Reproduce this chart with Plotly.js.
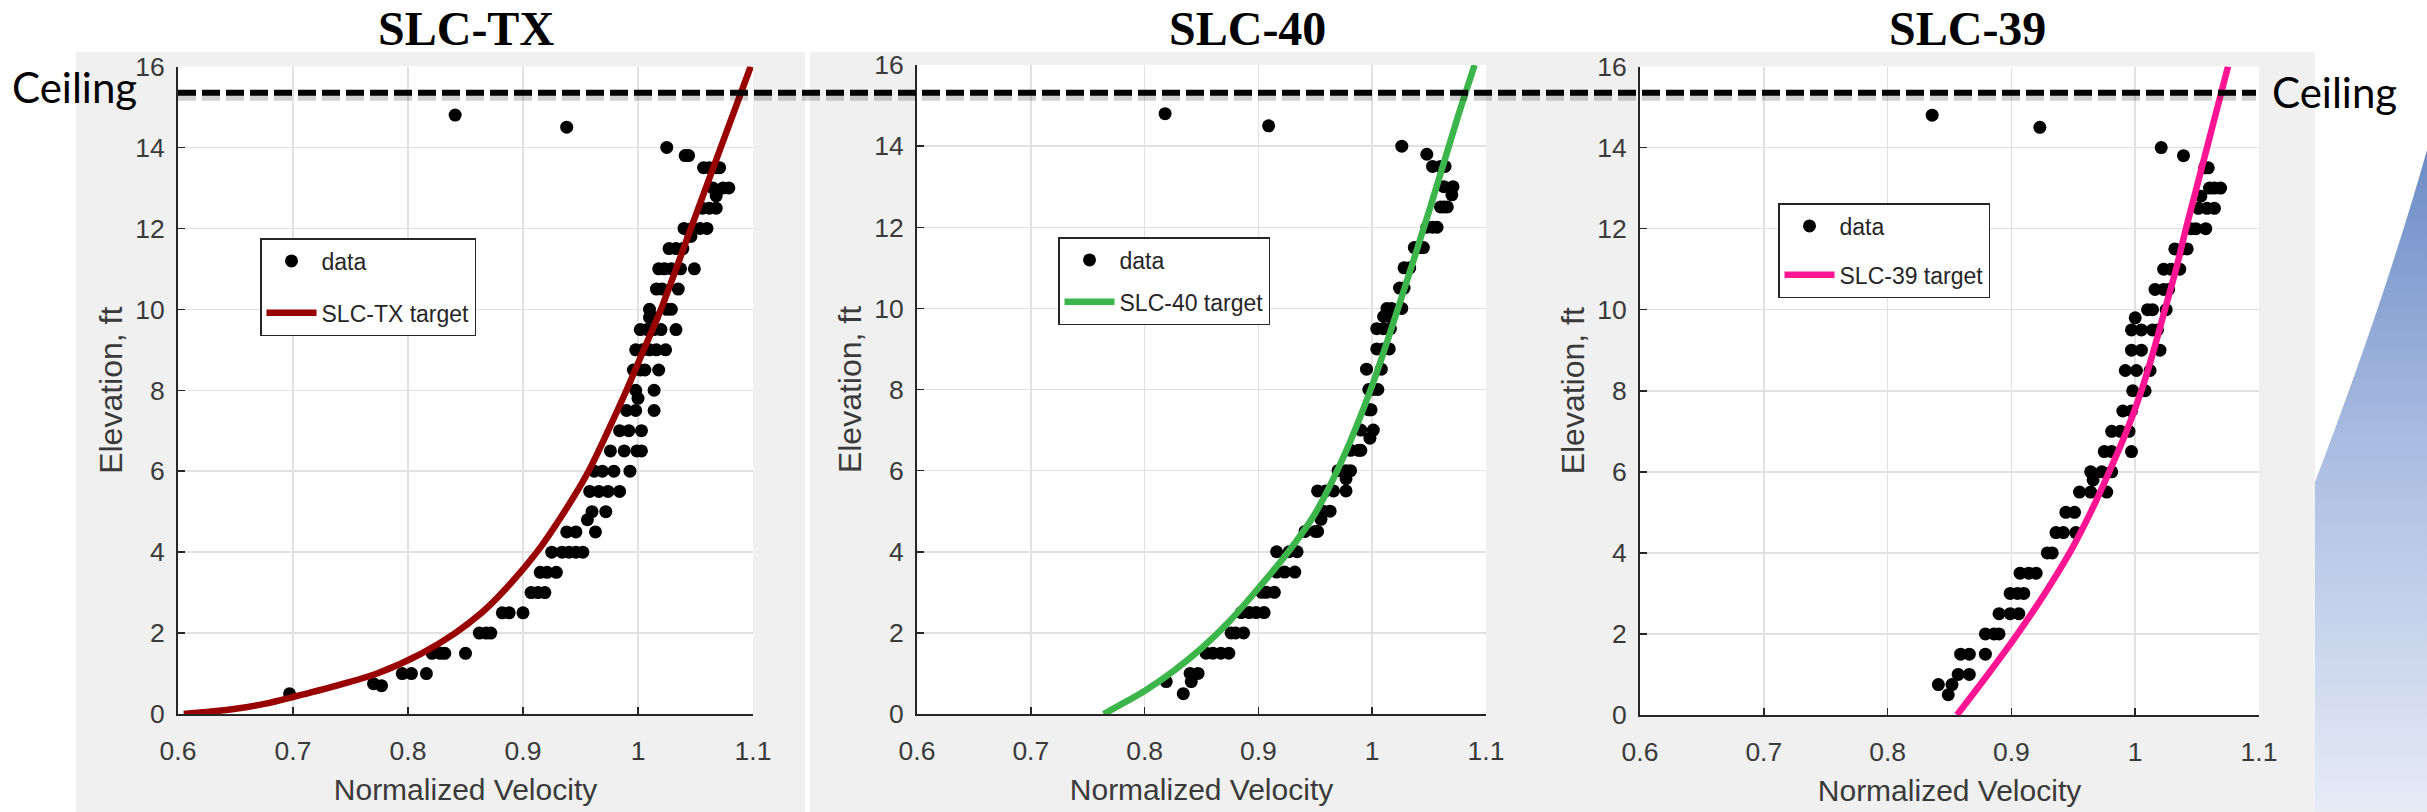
<!DOCTYPE html>
<html><head><meta charset="utf-8">
<script src="https://cdn.plot.ly/plotly-3.0.1.min.js"></script>
<style>html,body{margin:0;padding:0;background:#fff;}#chart{width:2427px;height:812px;}</style>
</head><body><div id="chart"></div>
<script>
const W = 2427, H = 812;

const panelTitles = ['SLC-TX', 'SLC-40', 'SLC-39'];
const targetNames = ['SLC-TX target', 'SLC-40 target', 'SLC-39 target'];
const targetColors = ['#990000', '#3cb54a', '#ff1493'];
const xTickVals = [0.6, 0.7, 0.8, 0.9, 1.0, 1.1];
const xTickText = ['0.6', '0.7', '0.8', '0.9', '1', '1.1'];
const yTickVals = [0, 2, 4, 6, 8, 10, 12, 14, 16];
const xTitle = 'Normalized Velocity';
const yTitle = 'Elevation, ft';
const ceilingLabel = 'Ceiling';
const ceilingFt = 15.35;

// ---- SLC-TX measured data ----
const txDataX = [0.841,0.938,1.025,1.041,1.044,
 1.057,1.062,1.068,1.071,
 1.065,1.074,1.079,1.068,
 1.056,1.062,1.068,
 1.040,1.047,1.054,1.060,1.046,
 1.027,1.033,1.039,
 1.018,1.023,1.029,1.037,1.049,
 1.016,1.021,1.035,
 1.010,1.025,1.029,
 1.010,1.014,
 1.002,1.008,1.014,1.020,1.033,
 0.998,1.004,1.010,1.016,1.024,
 0.996,1.002,1.006,1.018,
 0.998,1.014,1.000,
 0.990,0.998,1.014,
 0.984,0.992,1.003,
 0.976,0.988,0.999,1.003,
 0.962,0.969,0.979,0.993,
 0.958,0.966,0.974,0.984,
 0.960,0.972,0.956,
 0.938,0.946,0.963,
 0.925,0.934,0.940,0.946,0.952,
 0.915,0.921,0.929,
 0.907,0.913,0.919,
 0.882,0.888,0.900,
 0.862,0.868,0.872,
 0.821,0.828,0.832,0.850,
 0.795,0.803,0.816,
 0.770,0.777,
 0.697];
const txDataY = [14.8,14.5,14.0,13.8,13.8,
 13.5,13.5,13.5,13.5,
 13.0,13.0,13.0,12.8,
 12.5,12.5,12.5,
 12,12,12,12,11.8,
 11.5,11.5,11.5,
 11,11,11,11,11,
 10.5,10.5,10.5,
 10,10,10,
 9.8,9.8,
 9.5,9.5,9.5,9.5,9.5,
 9,9,9,9,9,
 8.5,8.5,8.5,8.5,
 8,8,7.8,
 7.5,7.5,7.5,
 7,7,7,
 6.5,6.5,6.5,6.5,
 6,6,6,6,
 5.5,5.5,5.5,5.5,
 5,5,4.8,
 4.5,4.5,4.5,
 4,4,4,4,4,
 3.5,3.5,3.5,
 3,3,3,
 2.5,2.5,2.5,
 2,2,2,
 1.5,1.5,1.5,1.5,
 1,1,1,
 0.75,0.7,
 0.5];

// ---- SLC-40 measured data ----
const s40DataX = [0.818,0.909,1.026,1.048,
 1.053,1.060,1.064,
 1.063,1.071,1.070,
 1.060,1.063,1.066,
 1.048,1.053,1.057,
 1.037,1.042,1.045,
 1.028,1.033,
 1.024,1.028,
 1.013,1.017,1.026,
 1.010,1.015,
 1.004,1.010,1.016,
 1.004,1.010,1.015,
 0.995,1.008,
 0.997,1.001,1.005,
 0.997,0.999,
 0.990,1.001,0.998,
 0.981,0.988,0.990,
 0.970,0.977,0.981,0.977,
 0.952,0.959,0.966,0.977,
 0.957,0.963,0.955,
 0.941,0.950,0.952,
 0.916,0.927,0.934,
 0.916,0.923,0.932,
 0.903,0.907,0.914,
 0.885,0.892,0.898,0.905,
 0.876,0.880,0.887,
 0.854,0.860,0.867,0.874,
 0.840,0.847,
 0.841,0.819,
 0.834];
const s40DataY = [14.8,14.5,14.0,13.8,
 13.5,13.5,13.5,
 13.0,13.0,12.8,
 12.5,12.5,12.5,
 12,12,12,
 11.5,11.5,11.5,
 11,11,
 10.5,10.5,
 10,10,10,
 9.8,9.8,
 9.5,9.5,9.5,
 9,9,9,
 8.5,8.5,
 8,8,8,
 7.5,7.5,
 7,7,6.8,
 6.5,6.5,6.5,
 6,6,6,5.8,
 5.5,5.5,5.5,5.5,
 5,5,4.8,
 4.5,4.5,4.5,
 4,4,4,
 3.5,3.5,3.5,
 3,3,3,
 2.5,2.5,2.5,2.5,
 2,2,2,
 1.5,1.5,1.5,1.5,
 1,1,
 0.8,0.8,
 0.5];

// ---- SLC-39 measured data ----
const s39DataX = [0.836,0.923,1.021,1.039,
 1.056,1.059,
 1.060,1.064,1.069,1.053,
 1.051,1.058,1.064,
 1.045,1.049,1.057,
 1.032,1.038,1.042,
 1.023,1.029,1.036,
 1.016,1.023,1.027,
 1.010,1.014,1.025,
 1.000,
 0.997,1.005,1.014,1.018,
 0.997,1.005,1.020,
 0.992,1.001,1.012,
 0.998,1.008,
 0.990,0.997,
 0.981,0.988,0.995,
 0.975,0.981,0.997,
 0.964,0.973,0.981,0.966,
 0.955,0.964,0.977,
 0.944,0.951,
 0.936,0.942,0.952,
 0.929,0.933,
 0.907,0.914,0.920,
 0.899,0.905,0.910,
 0.890,0.899,0.906,
 0.879,0.886,0.890,
 0.859,0.866,0.879,
 0.857,0.866,
 0.841,0.852,
 0.849];
const s39DataY = [14.8,14.5,14.0,13.8,
 13.5,13.5,
 13.0,13.0,13.0,12.8,
 12.5,12.5,12.5,
 12,12,12,
 11.5,11.5,11.5,
 11,11,11,
 10.5,10.5,10.5,
 10,10,10,
 9.8,
 9.5,9.5,9.5,9.5,
 9,9,9,
 8.5,8.5,8.5,
 8,8,
 7.5,7.5,
 7,7,7,
 6.5,6.5,6.5,
 6,6,6,5.8,
 5.5,5.5,5.5,
 5,5,
 4.5,4.5,4.5,
 4,4,
 3.5,3.5,3.5,
 3,3,3,
 2.5,2.5,2.5,
 2,2,2,
 1.5,1.5,1.5,
 1,1,
 0.75,0.75,
 0.5];

// ---- target curves ----
const txTargetX = [0.605,0.625,0.650,0.675,0.700,0.738,0.773,0.812,0.841,0.864,0.882,0.912,0.936,0.957,0.974,0.990,1.005,1.020,1.046,1.072,1.098];
const txTargetY = [0,0.05,0.13,0.25,0.42,0.70,1.0,1.5,2.0,2.5,3,4,5,6,7,8,9,10,12,14,16];
const s40TargetX = [0.764,0.775,0.800,0.825,0.850,0.875,0.900,0.925,0.950,0.975,1.000,1.025,1.050,1.075,1.090];
const s40TargetY = [0,0.17,0.57,1.05,1.62,2.30,3.10,3.95,4.95,6.35,8.10,10.2,12.4,14.7,16];
const s39TargetX = [0.856,0.881,0.905,0.927,0.947,0.964,0.979,0.993,1.005,1.015,1.024,1.033,1.041,1.0495,1.058,1.0665,1.075];
const s39TargetY = [0,1,2,3,4,5,6,7,8,9,10,11,12,13,14,15,16];

const dataX = [txDataX, s40DataX, s39DataX];
const dataY = [txDataY, s40DataY, s39DataY];
const targetX = [txTargetX, s40TargetX, s39TargetX];
const targetY = [txTargetY, s40TargetY, s39TargetY];

// ---- layout geometry (pixels) ----
const plotBoxes = [
  {l: 178, r: 753, t: 66.5, b: 714},
  {l: 917, r: 1486, t: 65, b: 714},
  {l: 1640, r: 2259, t: 66.5, b: 715}
];
const grayBoxes = [[76, 805], [810, 1545], [1545, 2315]];
const titleCenters = [466, 1247, 1967];
const legendPos = [[260, 238, 19], [1058, 237, 9], [1778, 203, 16]];

const tickFont = {family: 'Liberation Sans, Arial, sans-serif', size: 26.5, color: '#3a3a3a'};
const axTitleFont = {family: 'Liberation Sans, Arial, sans-serif', size: 30, color: '#3a3a3a'};

const traces = [];
const layout = {
  width: W, height: H,
  margin: {l: 0, r: 0, t: 0, b: 0},
  paper_bgcolor: '#ffffff',
  plot_bgcolor: 'rgba(0,0,0,0)',
  showlegend: true,
  shapes: [], annotations: [], images: []
};

for (let i = 0; i < 3; i++) {
  const s = i === 0 ? '' : String(i + 1);
  const xa = 'x' + s, ya = 'y' + s, lg = 'legend' + s;
  traces.push({
    type: 'scatter', mode: 'markers', name: 'data',
    x: dataX[i], y: dataY[i], xaxis: xa, yaxis: ya,
    marker: {color: '#000000', size: 13},
    legend: lg, legendgroup: 'd' + i, hoverinfo: 'x+y'
  });
  traces.push({
    type: 'scatter', mode: 'lines', name: targetNames[i],
    x: targetX[i], y: targetY[i], xaxis: xa, yaxis: ya,
    line: {color: targetColors[i], width: 6.5, shape: 'spline', smoothing: 0.8},
    legend: lg, legendgroup: 't' + i
  });
  const pb = plotBoxes[i];
  layout['xaxis' + s] = {
    domain: [pb.l / W, pb.r / W], anchor: ya, range: [0.6, 1.1],
    tickmode: 'array', tickvals: xTickVals, ticktext: xTickText,
    ticks: 'inside', ticklen: 7, tickwidth: 1.5, tickcolor: '#262626',
    showline: true, linecolor: '#262626', linewidth: 2,
    showgrid: true, gridcolor: '#e1e1e1', gridwidth: 1.5, zeroline: false,
    tickfont: tickFont, ticklabelstandoff: 12,
    title: {text: xTitle, font: axTitleFont, standoff: 14},
    fixedrange: true
  };
  layout['yaxis' + s] = {
    domain: [1 - pb.b / H, 1 - pb.t / H], anchor: xa, range: [0, 16],
    tickmode: 'array', tickvals: yTickVals,
    ticks: 'inside', ticklen: 7, tickwidth: 1.5, tickcolor: '#262626',
    showline: true, linecolor: '#262626', linewidth: 2,
    showgrid: true, gridcolor: '#e1e1e1', gridwidth: 1.5, zeroline: false,
    tickfont: tickFont, ticklabelstandoff: 6,
    title: {text: yTitle, font: Object.assign({}, axTitleFont, {size: 32}), standoff: 3},
    fixedrange: true
  };
  layout[lg] = {
    x: legendPos[i][0] / W, y: 1 - legendPos[i][1] / H, xanchor: 'left', yanchor: 'top',
    bgcolor: '#ffffff', bordercolor: '#262626', borderwidth: 1.5,
    font: {family: 'Liberation Sans, Arial, sans-serif', size: 23, color: '#262626'},
    tracegroupgap: legendPos[i][2], itemwidth: 50, traceorder: 'grouped'
  };
  // gray figure background of the panel
  layout.shapes.push({
    type: 'rect', xref: 'paper', yref: 'paper', layer: 'below',
    x0: grayBoxes[i][0] / W, x1: grayBoxes[i][1] / W, y0: 0, y1: 1 - 52 / H,
    fillcolor: '#f0f0f0', line: {width: 0}
  });
  // white axes background
  layout.shapes.push({
    type: 'rect', xref: xa + ' domain', yref: ya + ' domain', layer: 'below',
    x0: 0, x1: 1, y0: 0, y1: 1, fillcolor: '#ffffff', line: {width: 0}
  });
  layout.annotations.push({
    text: panelTitles[i], xref: 'paper', yref: 'paper',
    x: titleCenters[i] / W, y: 1 - 28.5 / H, xanchor: 'center', yanchor: 'middle',
    showarrow: false,
    font: {family: 'Liberation Serif, Times New Roman, serif', size: 48, color: '#000000', weight: 700}
  });
}

// ceiling line (shadow + dashes)
layout.shapes.push({
  type: 'line', xref: 'paper', yref: 'y', ysizemode: 'pixel', yanchor: ceilingFt,
  x0: 178 / W, x1: 2256 / W, y0: -3, y1: -3,
  line: {color: 'rgba(0,0,0,0.18)', width: 10, dash: '18px,6px'}, layer: 'above'
});
layout.shapes.push({
  type: 'line', xref: 'paper', yref: 'y',
  x0: 178 / W, x1: 2256 / W, y0: ceilingFt, y1: ceilingFt,
  line: {color: '#000000', width: 6, dash: '18px,6px'}, layer: 'above'
});
layout.annotations.push({
  text: ceilingLabel, xref: 'paper', yref: 'paper', x: 10 / W, y: 1 - 87 / H,
  xanchor: 'left', yanchor: 'middle', showarrow: false,
  font: {family: 'Lato, Open Sans, sans-serif', size: 42, color: '#000000'}
});
layout.annotations.push({
  text: ceilingLabel, xref: 'paper', yref: 'paper', x: 2270 / W, y: 1 - 92 / H,
  xanchor: 'left', yanchor: 'middle', showarrow: false,
  font: {family: 'Lato, Open Sans, sans-serif', size: 42, color: '#000000'}
});

// decorative blue swoosh at the right edge (slide background)
const svg = '<svg xmlns="http://www.w3.org/2000/svg" width="112" height="812" viewBox="0 0 112 812" preserveAspectRatio="none">' +
  '<defs><linearGradient id="g" x1="0" y1="0" x2="0" y2="1">' +
  '<stop offset="0" stop-color="#6d8cc6"/><stop offset="0.45" stop-color="#aabde2"/><stop offset="1" stop-color="#e6ebf6"/>' +
  '</linearGradient></defs>' +
  '<path d="M0,482 C35,390 75,280 112,150 L112,812 L0,812 Z" fill="url(#g)"/></svg>';
layout.images.push({
  source: 'data:image/svg+xml;charset=utf-8,' + encodeURIComponent(svg),
  xref: 'paper', yref: 'paper', x: 2315 / W, y: 1, sizex: 112 / W, sizey: 1,
  xanchor: 'left', yanchor: 'top', sizing: 'stretch', layer: 'below'
});

Plotly.newPlot('chart', traces, layout, {staticPlot: true, displayModeBar: false});
</script>
</body></html>
